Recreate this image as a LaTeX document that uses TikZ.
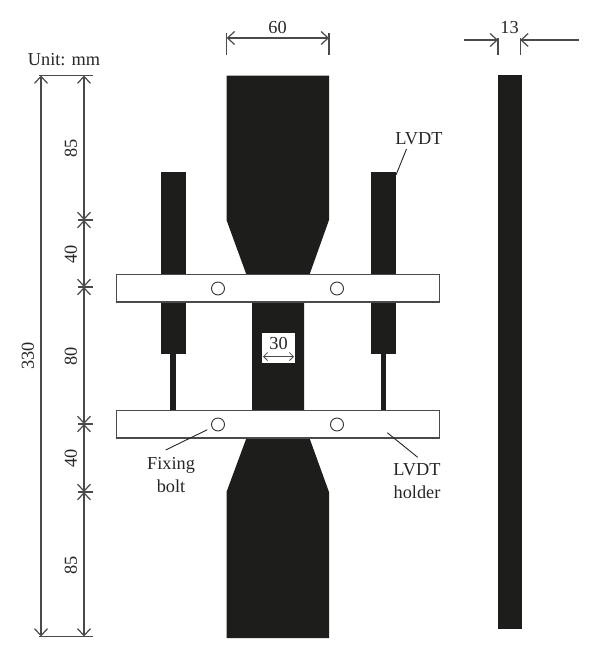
\documentclass[tikz,border=0pt]{standalone}
\usepackage{fontspec}
\setmainfont{Liberation Serif}
\usetikzlibrary{arrows.meta}
\definecolor{steelblack}{HTML}{1D1D1B}
\definecolor{dimgrey}{HTML}{4A4A4A}
\begin{document}
\begin{tikzpicture}[x=1pt, y=-1pt,
    every node/.style={inner sep=0pt, text=black!85, font=\fontsize{18.3}{23}\selectfont, align=center},
    solidbar/.style={fill=steelblack, draw=steelblack, line width=0.4pt, minimum width=#1},
    holderbar/.style={draw=dimgrey, line width=1.2pt, fill=white, minimum width=323pt, minimum height=27.5pt},
    boltmark/.style={circle, draw=black!80, line width=0.9pt, fill=white, minimum size=13pt},
    dimline/.style={draw=dimgrey, line width=1.2pt, {Straight Barb[length=7pt,width=13pt]}-{Straight Barb[length=7pt,width=13pt]}},
    dimtick/.style={draw=dimgrey, line width=1.2pt},
    leader/.style={draw=black!85, line width=0.9pt}]
    \useasboundingbox[fill=white] (0,0) rectangle (600,659);

    \fill[steelblack] (226.5,75.5) -- (329,75.5) -- (329,220) -- (304,290) -- (304,423)
        -- (329,492) -- (329,638) -- (226.5,638) -- (226.5,492) -- (252,423) -- (252,290)
        -- (226.5,220) -- cycle;
    \node[solidbar=22.5pt, minimum height=553pt] (sidebar) at (509.5,352) {};

    \node[solidbar=24pt, minimum height=180.5pt] (lvdtL) at (172.75,262.75) {};
    \node[solidbar=24pt, minimum height=180.5pt] (lvdtR) at (383,262.75) {};
    \node[solidbar=4.5pt, minimum height=58pt] (rodL) at (172.75,382) {};
    \node[solidbar=4.5pt, minimum height=58pt] (rodR) at (383,382) {};

    \node[holderbar] (holderA) at (277.75,288.25) {};
    \node[holderbar] (holderB) at (277.75,424.25) {};
    \node[boltmark] (boltA) at (218,288.5) {};
    \node[boltmark] (boltB) at (337,288.5) {};
    \node[boltmark] (boltC) at (218,424.5) {};
    \node[boltmark] (boltD) at (337,424.5) {};

    \node[fill=white, minimum width=33pt, minimum height=30pt] (neckbox) at (278.5,348) {};
    \node (neck) at (278.5,343.5) {30};
    \coordinate (neckL) at (263,356.5);
    \coordinate (neckR) at (294,356.5);
    \draw[draw=dimgrey, line width=0.8pt, {Straight Barb[length=4pt,width=8pt]}-{Straight Barb[length=4pt,width=8pt]}] (neckL) -- (neckR);

    \coordinate (topL) at (226.7,38);
    \coordinate (topR) at (329,38);
    \coordinate (topLe) at (226.7,55);
    \coordinate (topRe) at (329,55);
    \draw[dimtick] (226.7,33) -- (topLe);
    \draw[dimtick] (329,33) -- (topRe);
    \draw[dimline] (topL) -- (topR);
    \node (width) at (277.5,28) {60};

    \coordinate (thkL) at (498,40);
    \coordinate (thkR) at (520.3,40);
    \coordinate (thkLo) at (464,40);
    \coordinate (thkRo) at (579,40);
    \draw[dimtick] (498,38) -- (498,55);
    \draw[dimtick] (520.3,38) -- (520.3,55);
    \draw[dimtick, -{Straight Barb[length=7pt,width=13pt]}] (thkLo) -- (thkL);
    \draw[dimtick, -{Straight Barb[length=7pt,width=13pt]}] (thkRo) -- (thkR);
    \node (thick) at (509.5,27.5) {13};

    \node (unit) at (64,60) {Unit: mm};
    \coordinate (lenT) at (41,75.5);
    \coordinate (lenB) at (41,636.5);
    \coordinate (segA) at (84,75.5);
    \coordinate (segB) at (84,220);
    \coordinate (segC) at (84,287);
    \coordinate (segD) at (84,424);
    \coordinate (segE) at (84,492);
    \coordinate (segF) at (84,636.5);
    \draw[dimtick] (39,75.5) -- (93,75.5);
    \draw[dimtick] (39,636.5) -- (93,636.5);
    \foreach \tickname in {segB,segC,segD,segE}
        \draw[dimtick] (\tickname) ++(-6,0) -- ++(15,0);
    \draw[dimline] (lenT) -- (lenB);
    \draw[dimline] (segA) -- (segB);
    \draw[dimline] (segB) -- (segC);
    \draw[dimline] (segC) -- (segD);
    \draw[dimline] (segD) -- (segE);
    \draw[dimline] (segE) -- (segF);
    \node[rotate=90] (total) at (28,356) {330};
    \node[rotate=90] (partA) at (71,148) {85};
    \node[rotate=90] (partB) at (71,254) {40};
    \node[rotate=90] (partC) at (71,356) {80};
    \node[rotate=90] (partD) at (71,458) {40};
    \node[rotate=90] (partE) at (71,565) {85};

    \node (lvdtlabel) at (419,139) {LVDT};
    \node (fixlabel) at (171,475) {Fixing\\bolt};
    \node (holderlabel) at (417,481) {LVDT\\holder};
    \coordinate (lvdtend) at (406.5,149);
    \coordinate (lvdtpt) at (396,175);
    \coordinate (fixend) at (165.7,450);
    \coordinate (holderend) at (417.7,457.3);
    \coordinate (holderpt) at (387.3,432.7);
    \draw[leader] (lvdtend) -- (lvdtpt);
    \draw[leader, shorten >=5pt] (fixend) -- (boltC);
    \draw[leader] (holderend) -- (holderpt);
\end{tikzpicture}
\end{document}
